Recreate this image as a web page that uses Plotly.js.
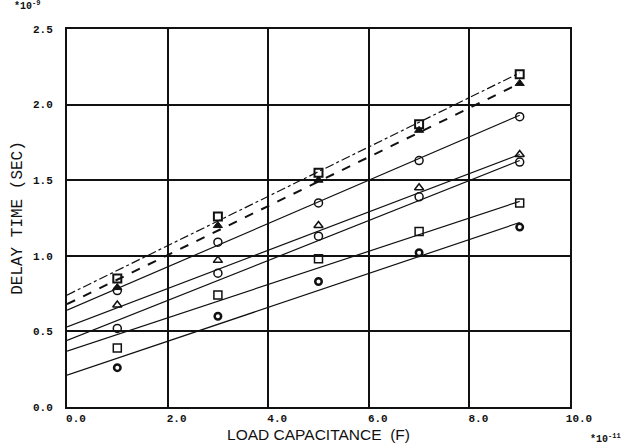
<!DOCTYPE html>
<html>
<head>
<meta charset="utf-8">
<script src="https://cdn.plot.ly/plotly-3.0.1.min.js"></script>
<style>html,body{margin:0;padding:0;background:#fff;}#chart{width:636px;height:448px;}</style>
</head>
<body>
<div id="chart"></div>
<script>
// Measured points (load capacitance, x1e-11 F) and delay time (x1e-9 s)
const loadCap = [1, 3, 5, 7, 9];
const seriesA = [0.85, 1.26, 1.55, 1.87, 2.20];   // open square (top)
const seriesB = [0.79, 1.20, 1.50, 1.83, 2.14];   // filled triangle
const seriesC = [0.77, 1.09, 1.35, 1.63, 1.92];   // open circle
const seriesD = [0.675, 0.97, 1.20, 1.45, 1.67];  // open triangle
const seriesE = [0.52, 0.885, 1.13, 1.39, 1.62];  // open circle
const seriesF = [0.39, 0.74, 0.98, 1.16, 1.35];   // open square
const seriesG = [0.26, 0.60, 0.83, 1.02, 1.19];   // bold circle

// Fitted (calculated) lines: start and end values
const lineCap = [0, 9];
const lineA = [0.74, 2.21];
const lineB = [0.68, 2.14];
const lineC = [0.64, 1.93];
const lineD = [0.53, 1.67];
const lineE = [0.44, 1.63];
const lineF = [0.37, 1.36];
const lineG = [0.21, 1.22];

const xTickVals = [0, 2, 4, 6, 8, 10];
const xTickText = ['0.0', '2.0', '4.0', '6.0', '8.0', '10.0'];
const yTickVals = [0, 0.5, 1.0, 1.5, 2.0, 2.5];
const yTickText = ['0.0', '0.5', '1.0', '1.5', '2.0', '2.5'];

const lineDefs = [
  [lineA, 'dashdot', 1.2],
  [lineB, 'dash', 2],
  [lineC, 'solid', 1.2],
  [lineD, 'solid', 1.2],
  [lineE, 'solid', 1.2],
  [lineF, 'solid', 1.2],
  [lineG, 'solid', 1.2]
];
const markDefs = [
  [seriesA, 'square-open', 8, 2],
  [seriesB, 'triangle-up', 8, 1],
  [seriesC, 'circle-open', 8, 1.5],
  [seriesD, 'triangle-up-open', 8, 1.5],
  [seriesE, 'circle-open', 8, 1.5],
  [seriesF, 'square-open', 8, 1.5],
  [seriesG, 'circle-open', 6.5, 2.5]
];

const traces = [];
lineDefs.forEach(d => traces.push({
  x: lineCap, y: d[0], mode: 'lines', type: 'scatter',
  line: {color: '#111', width: d[2], dash: d[1]}, hoverinfo: 'skip'
}));
markDefs.forEach(d => traces.push({
  x: loadCap, y: d[0], mode: 'markers', type: 'scatter',
  marker: {symbol: d[1], size: d[2], color: '#111', line: {color: '#111', width: d[3]}}
}));

const tickFont = {family: 'Liberation Mono, DejaVu Sans Mono, monospace', size: 11, color: '#111', weight: 'bold'};

const layout = {
  width: 636, height: 448,
  margin: {l: 67, r: 66, t: 29, b: 41},
  paper_bgcolor: '#fff', plot_bgcolor: '#fff',
  showlegend: false,
  xaxis: {
    range: [0, 10], tickvals: xTickVals, ticktext: xTickText,
    showgrid: true, gridcolor: '#111', gridwidth: 2,
    showline: true, mirror: true, linecolor: '#111', linewidth: 2,
    zeroline: false, ticks: '', tickfont: tickFont, ticklabelshift: 9,
    title: {text: 'LOAD CAPACITANCE  (F)', standoff: 5,
      font: {family: 'Liberation Sans, Arial, sans-serif', size: 15.5, color: '#111'}}
  },
  yaxis: {
    range: [0, 2.5], tickvals: yTickVals, ticktext: yTickText,
    showgrid: true, gridcolor: '#111', gridwidth: 2,
    showline: true, mirror: true, linecolor: '#111', linewidth: 2,
    zeroline: false, ticks: '', tickfont: tickFont, ticklabelstandoff: 10,
    title: {text: 'DELAY TIME (SEC)', standoff: 6,
      font: {family: 'Liberation Mono, Courier New, monospace', size: 16, color: '#111'}}
  },
  annotations: [
    {xref: 'paper', yref: 'paper', x: -0.08, y: 1.04, xanchor: 'center', yanchor: 'bottom',
      showarrow: false, text: '*10<sup>-9</sup>', font: {family: 'Liberation Mono, monospace', size: 10, color: '#111', weight: 'bold'}},
    {xref: 'paper', yref: 'paper', x: 1.07, y: -0.06, xanchor: 'center', yanchor: 'top',
      showarrow: false, text: '*10<sup>-11</sup>', font: {family: 'Liberation Mono, monospace', size: 10, color: '#111', weight: 'bold'}}
  ]
};

Plotly.newPlot('chart', traces, layout, {displayModeBar: false, staticPlot: true});
</script>
</body>
</html>
